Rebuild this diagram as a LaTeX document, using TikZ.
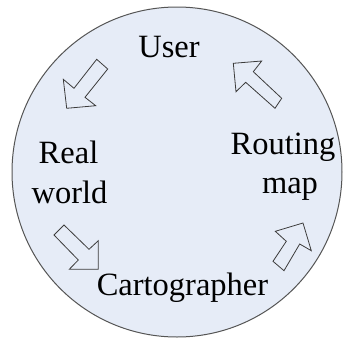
\documentclass[tikz,border=0pt]{standalone}
\usepackage{fontspec}
\setmainfont{Liberation Serif}
\definecolor{discfill}{RGB}{230,236,247}
\definecolor{discedge}{RGB}{85,85,85}
\definecolor{arrowedge}{RGB}{60,60,60}
\tikzset{
  label text/.style={anchor=base, inner sep=0pt, font=\fontsize{32.5}{40}\selectfont},
  blockarrow/.style={draw=arrowedge, line width=0.8pt, line join=miter, fill=discfill},
  disc/.style={draw=discedge, line width=1pt, fill=discfill}
}
\begin{document}
\begin{tikzpicture}[x=1pt,y=-1pt]
\useasboundingbox (0,0) rectangle (343,338);
\fill[white] (0,0) rectangle (343,338);
% background disc
\draw[disc] (177,172) circle[radius=165];

% labels
\node[label text] (user) at (169,57) {User};
\node[label text] (real) at (68.5,163) {Real};
\node[label text] (world) at (69.5,203) {world};
\node[label text] (routing) at (283,154) {Routing};
\node[label text] (map) at (290,193) {map};
\node[label text] (carto) at (182.5,295) {Cartographer};

% block arrows of the cycle
% User -> Real world
\draw[blockarrow] (96.7,59.3) -- (107.7,69) -- (85,97.3) -- (95.7,105.7)
  -- (66.7,108.3) -- (63.3,79.3) -- (74,88.3) -- cycle;
% Real world -> Cartographer
\draw[blockarrow] (64,225) -- (54,235) -- (78.3,260) -- (69.3,269.3)
  -- (98.3,269.3) -- (98.3,240.7) -- (89,249.3) -- cycle;
% Cartographer -> Routing map
\draw[blockarrow] (273,261.3) -- (284,270.7) -- (299.7,244) -- (311.3,250.7)
  -- (303,223) -- (275.3,231.3) -- (286.3,241.3) -- cycle;
% Routing map -> User
\draw[blockarrow] (281.7,98.3) -- (275,108.3) -- (245.7,82.3) -- (236,91.7)
  -- (233.3,63.3) -- (261.7,61) -- (253.3,71.7) -- cycle;
\end{tikzpicture}
\end{document}
